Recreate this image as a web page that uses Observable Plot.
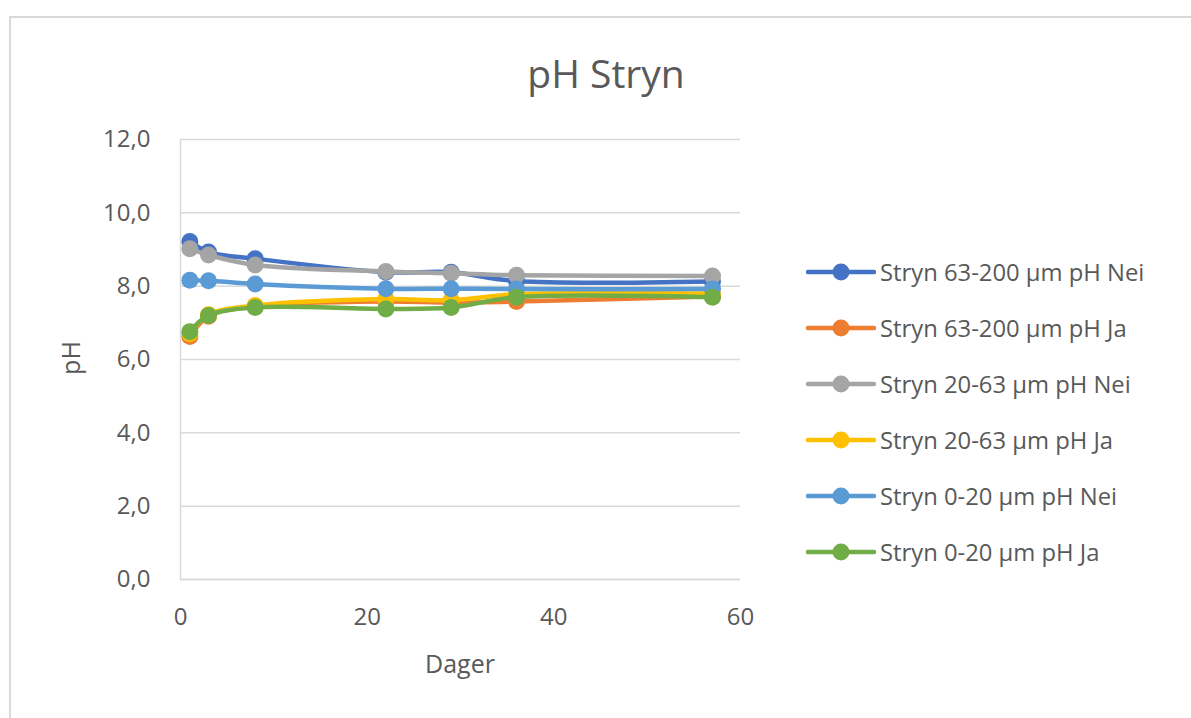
<!DOCTYPE html>
<html>
<head>
<meta charset="utf-8">
<script src="https://cdn.jsdelivr.net/npm/d3@7"></script>
<script src="https://cdn.jsdelivr.net/npm/@observablehq/plot@0.6"></script>
<style>
  html, body { margin: 0; padding: 0; background: #fff; }
  body { width: 1191px; height: 718px; position: relative; overflow: hidden; font-family: "Open Sans", sans-serif; color: #595959; }
  #frame { position: absolute; left: 9px; top: 16px; width: 1200px; height: 720px; border: 2px solid #d9d9d9; box-sizing: border-box; }
  #title { position: absolute; left: 0; width: 1212px; top: 48px; line-height: 50px; text-align: center; font-size: 39px; color: #595959; }
  #chart { position: absolute; left: 0; top: 0; }
  #xlabel { position: absolute; left: 360px; width: 200px; top: 646px; line-height: 34px; text-align: center; font-size: 25px; }
  #ylabel { position: absolute; left: -30px; width: 200px; top: 341px; line-height: 34px; text-align: center; font-size: 25px; transform: rotate(-90deg); }
  #legend { position: absolute; left: 806px; top: 244px; }
  .item { display: flex; align-items: center; height: 56px; font-size: 23.8px; color: #595959; }
  .item svg { margin-right: 4px; }
</style>
</head>
<body>
<div id="frame"></div>
<div id="title">pH Stryn</div>
<div id="chart"></div>
<div id="xlabel">Dager</div>
<div id="ylabel">pH</div>
<div id="legend"></div>
<script>
const days = [1, 3, 8, 22, 29, 36, 57];
const seriesNames = [
  "Stryn 63-200 µm pH Nei",
  "Stryn 63-200 µm pH Ja",
  "Stryn 20-63 µm pH Nei",
  "Stryn 20-63 µm pH Ja",
  "Stryn 0-20 µm pH Nei",
  "Stryn 0-20 µm pH Ja"
];
const colors = ["#4472C4", "#ED7D31", "#A5A5A5", "#FFC000", "#5B9BD5", "#70AD47"];
const s63_200Nei = [9.22, 8.93, 8.75, 8.38, 8.38, 8.14, 8.13];
const s63_200Ja  = [6.63, 7.18, 7.45, 7.58, 7.55, 7.58, 7.72];
const s20_63Nei  = [9.02, 8.85, 8.58, 8.40, 8.35, 8.30, 8.28];
const s20_63Ja   = [6.70, 7.22, 7.47, 7.65, 7.62, 7.78, 7.80];
const s0_20Nei   = [8.16, 8.15, 8.06, 7.93, 7.93, 7.92, 7.92];
const s0_20Ja    = [6.76, 7.20, 7.42, 7.38, 7.42, 7.70, 7.70];
const yTicks = [0, 2, 4, 6, 8, 10, 12];
const xTicks = [0, 20, 40, 60];

const allValues = [s63_200Nei, s63_200Ja, s20_63Nei, s20_63Ja, s0_20Nei, s0_20Ja];
const data = [];
allValues.forEach((vals, i) => vals.forEach((v, j) => data.push({series: seriesNames[i], day: days[j], pH: v})));

const marks = [
  Plot.gridY(yTicks, {stroke: "#d9d9d9", strokeOpacity: 1, strokeWidth: 1.5}),
  Plot.ruleX([0], {stroke: "#d9d9d9", strokeWidth: 1.5}),
  Plot.ruleY([0], {stroke: "#d9d9d9", strokeWidth: 1.5})
];
seriesNames.forEach((name, i) => {
  const d = data.filter(r => r.series === name);
  marks.push(Plot.line(d, {x: "day", y: "pH", stroke: colors[i], strokeWidth: 4.5, curve: "catmull-rom"}));
  marks.push(Plot.dot(d, {x: "day", y: "pH", fill: colors[i], r: 8.5}));
});

const chart = Plot.plot({
  width: 780,
  height: 700,
  marginLeft: 180,
  marginRight: 40,
  marginTop: 139,
  marginBottom: 121,
  style: {fontFamily: "Open Sans, sans-serif", fontSize: "24px", color: "#595959", background: "transparent"},
  x: {domain: [0, 60], ticks: xTicks, tickSize: 0, tickPadding: 28, label: null},
  y: {domain: [0, 12], ticks: yTicks, tickSize: 0, tickPadding: 30, tickFormat: d => d.toFixed(1).replace(".", ","), label: null},
  marks
});
document.getElementById("chart").appendChild(chart);

const legend = document.getElementById("legend");
seriesNames.forEach((name, i) => {
  const item = document.createElement("div");
  item.className = "item";
  item.innerHTML = `<svg width="70" height="20"><line x1="2" y1="10" x2="68" y2="10" stroke="${colors[i]}" stroke-width="4.5" stroke-linecap="round"/><circle cx="35" cy="10" r="8.5" fill="${colors[i]}"/></svg><span>${name}</span>`;
  legend.appendChild(item);
});
</script>
</body>
</html>
